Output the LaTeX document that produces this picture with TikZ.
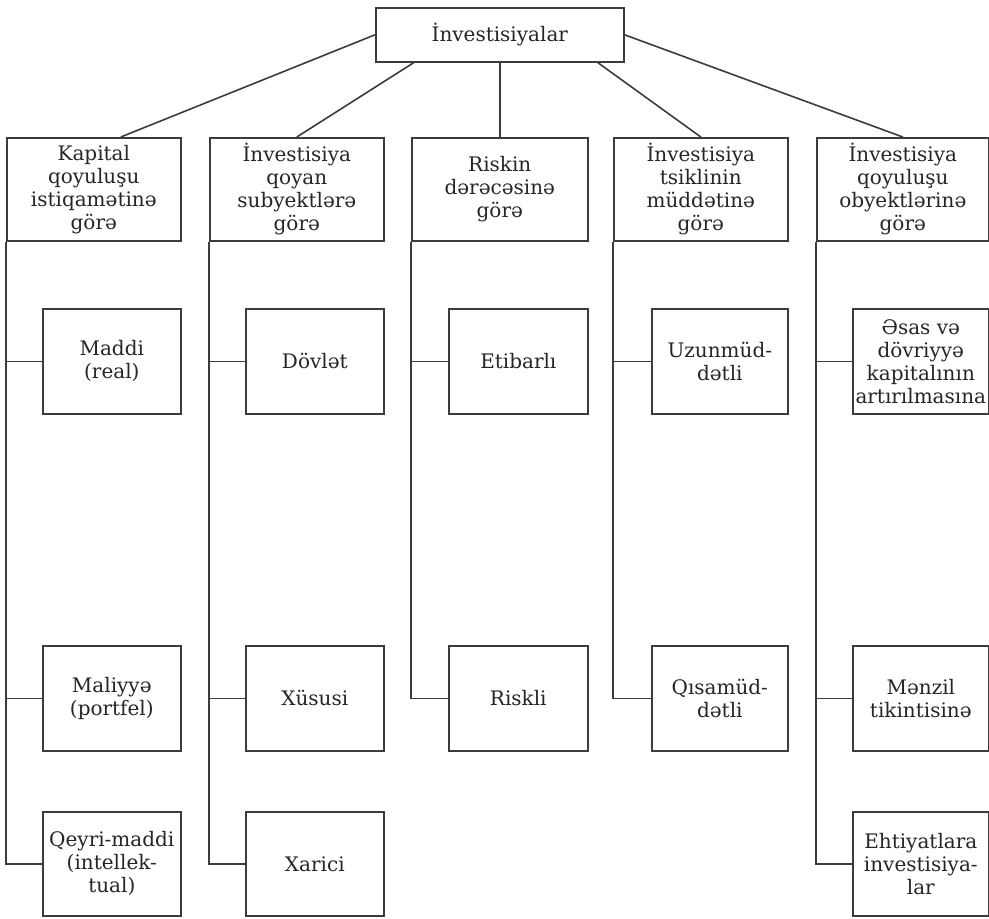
\documentclass[tikz,border=0pt]{standalone}
\usepackage{fontspec}
\setmainfont{DejaVu Serif}
\usepackage{tikz}
\usetikzlibrary{positioning,calc}
\definecolor{inkgrey}{RGB}{60,60,60}
\tikzset{
  box/.style={draw=inkgrey,line width=0.8pt,align=center,inner sep=0.5pt,fill=white,text=black!85,font=\fontsize{10}{11.5}\selectfont,anchor=north west},
  topbox/.style={box,minimum width=124pt,minimum height=27pt},
  catbox/.style={box,minimum width=87pt,minimum height=51.5pt},
  subbox/.style={box,minimum width=69pt,minimum height=52.5pt},
  link/.style={draw=inkgrey,line width=0.8pt}
}
\begin{document}
\begin{tikzpicture}[x=0.5pt,y=-0.5pt]
  \useasboundingbox (0,0) rectangle (989,918);
  % root
  \node[topbox] (top) at (375,7) {İnvestisiyalar};
  % categories
  \node[catbox] (cat1) at (6,137) {Kapital\\qoyuluşu\\istiqamətinə\\görə};
  \node[catbox] (cat2) at (209,137) {İnvestisiya\\qoyan\\subyektlərə\\görə};
  \node[catbox,minimum width=88pt] (cat3) at (411,137) {Riskin\\dərəcəsinə\\görə};
  \node[catbox] (cat4) at (613,137) {İnvestisiya\\tsiklinin\\müddətinə\\görə};
  \node[catbox,minimum width=86pt] (cat5) at (816,137) {İnvestisiya\\qoyuluşu\\obyektlərinə\\görə};
  \draw[link] (top.west) -- ([xshift=13.5pt]cat1.north);
  \draw[link] ([xshift=-43pt]top.south) -- (cat2.north);
  \draw[link] (top.south) -- (cat3.north);
  \draw[link] ([xshift=49pt]top.south) -- (cat4.north);
  \draw[link] (top.east) -- (cat5.north);
  % first row
  \node[subbox] (m11) at (42,308) {Maddi\\(real)};
  \node[subbox] (m21) at (245,308) {Dövlət};
  \node[subbox,minimum width=69.5pt] (m31) at (448,308) {Etibarlı};
  \node[subbox,minimum width=68pt] (m41) at (651,308) {Uzunmüd-\\dətli};
  \node[subbox,minimum width=68pt] (m51) at (852,308) {Əsas və\\dövriyyə\\kapitalının\\artırılmasına};
  % second row
  \node[subbox] (m12) at (42,645) {Maliyyə\\(portfel)};
  \node[subbox] (m22) at (245,645) {Xüsusi};
  \node[subbox,minimum width=69.5pt] (m32) at (448,645) {Riskli};
  \node[subbox,minimum width=68pt] (m42) at (651,645) {Qısamüd-\\dətli};
  \node[subbox,minimum width=68pt] (m52) at (852,645) {Mənzil\\tikintisinə};
  % third row
  \node[subbox,minimum height=52pt] (m13) at (42,811) {Qeyri-maddi\\(intellek-\\tual)};
  \node[subbox,minimum height=52pt] (m23) at (245,811) {Xarici};
  \node[subbox,minimum width=68pt,minimum height=52pt] (m53) at (852,811) {Ehtiyatlara\\investisiya-\\lar};
  % trunks
  \draw[link] (cat1.south west) |- (m13.west);
  \draw[link] (m11.west -| cat1.west) -- (m11.west);
  \draw[link] (m12.west -| cat1.west) -- (m12.west);
  \draw[link] (cat2.south west) |- (m23.west);
  \draw[link] (m21.west -| cat2.west) -- (m21.west);
  \draw[link] (m22.west -| cat2.west) -- (m22.west);
  \draw[link] (cat3.south west) |- (m32.west);
  \draw[link] (m31.west -| cat3.west) -- (m31.west);
  \draw[link] (cat4.south west) |- (m42.west);
  \draw[link] (m41.west -| cat4.west) -- (m41.west);
  \draw[link] (cat5.south west) |- (m53.west);
  \draw[link] (m51.west -| cat5.west) -- (m51.west);
  \draw[link] (m52.west -| cat5.west) -- (m52.west);
\end{tikzpicture}
\end{document}
